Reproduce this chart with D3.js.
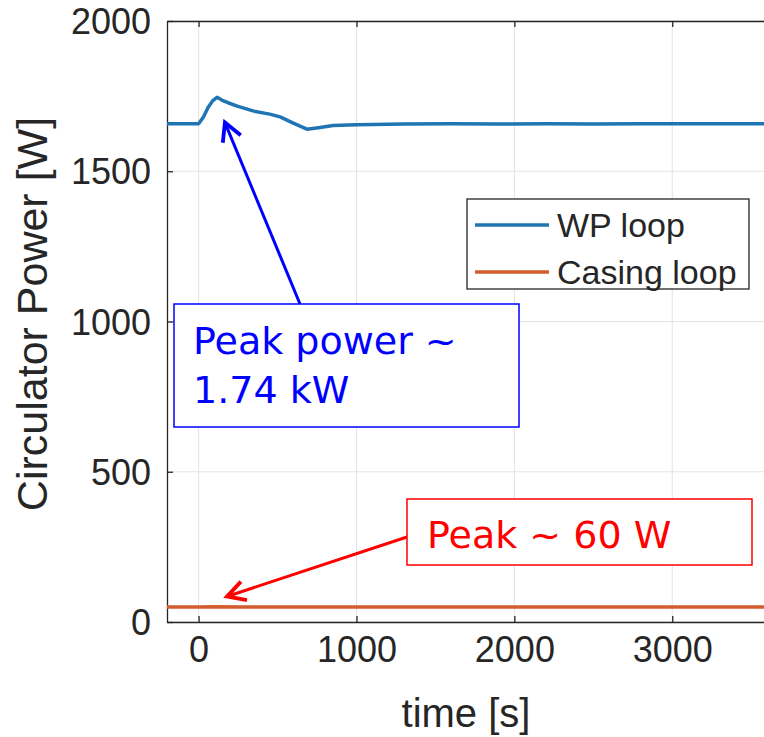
<!DOCTYPE html>
<html>
<head>
<meta charset="utf-8">
<script src="https://cdn.jsdelivr.net/npm/d3@7"></script>
<style>
  body { margin: 0; background: #fff; }
  text { font-family: "Liberation Sans", Arial, sans-serif; fill: #262626; }
  .note { font-family: "DejaVu Sans", sans-serif; }
</style>
</head>
<body>
<script>
// data
const wpTime  = [-200, -100, 0, 30, 60, 90, 117, 150, 186, 250, 350, 450, 516, 600, 686, 760, 851, 1000, 1300, 1600, 1900, 2200, 2500, 2800, 3100, 3400, 3600];
const wpPower = [1658, 1658, 1658, 1680, 1712, 1735, 1746, 1736, 1728, 1716, 1700, 1690, 1681, 1660, 1640, 1645, 1652, 1655, 1657, 1658, 1657, 1658, 1657, 1658, 1658, 1658, 1658];
const casingTime  = [-200, 0, 100, 300, 1000, 2000, 3000, 3600];
const casingPower = [50, 50, 51, 50, 50, 50, 50, 50];
const xTicks = [0, 1000, 2000, 3000];
const yTicks = [0, 500, 1000, 1500, 2000];
const seriesNames = ["WP loop", "Casing loop"];
const seriesColors = ["#1f74b4", "#d35c2e"];

const width = 764, height = 737;
const margin = { left: 167, top: 21, bottom: 115 };

const svg = d3.select("body").append("svg")
  .attr("width", width)
  .attr("height", height);

let xScale = d3.scaleLinear([-200, 3600], [margin.left, 767]);
let yScale = d3.scaleLinear([0, 2000], [height - margin.bottom, margin.top]);

svg.append("clipPath").attr("id", "chart-area")
  .append("rect")
  .attr("x", margin.left).attr("y", margin.top)
  .attr("width", 767 - margin.left).attr("height", yScale(0) - margin.top);

// grid
svg.append("g").selectAll("line").data(xTicks).join("line")
  .attr("x1", d => xScale(d)).attr("x2", d => xScale(d))
  .attr("y1", yScale(0)).attr("y2", yScale(2000))
  .attr("stroke", "#e3e3e3").attr("stroke-width", 1);
svg.append("g").selectAll("line").data(yTicks).join("line")
  .attr("x1", xScale(-200)).attr("x2", xScale(3600))
  .attr("y1", d => yScale(d)).attr("y2", d => yScale(d))
  .attr("stroke", "#e3e3e3").attr("stroke-width", 1);

// axes (MATLAB style, ticks inward)
const xAxis = svg.append("g")
  .attr("transform", `translate(0,${yScale(0)})`)
  .call(d3.axisBottom(xScale).tickValues(xTicks).tickFormat(d3.format("d"))
    .tickSizeInner(-6).tickSizeOuter(0).tickPadding(14));
const yAxis = svg.append("g")
  .attr("transform", `translate(${margin.left},0)`)
  .call(d3.axisLeft(yScale).tickValues(yTicks).tickFormat(d3.format("d"))
    .tickSizeInner(-6).tickSizeOuter(0).tickPadding(16));
const xTop = svg.append("g")
  .attr("transform", `translate(0,${yScale(2000)})`)
  .call(d3.axisTop(xScale).tickValues(xTicks).tickSizeInner(-6).tickSizeOuter(0).tickFormat(""));

[xAxis, yAxis, xTop].forEach(a => {
  a.select(".domain").attr("stroke", "#262626").attr("stroke-width", 1.3);
  a.selectAll(".tick line").attr("stroke", "#262626").attr("stroke-width", 1.3);
  a.selectAll(".tick text").style("font-size", "36px").attr("fill", "#262626")
    .style("font-family", "'Liberation Sans', Arial, sans-serif");
});
yAxis.selectAll(".tick text").attr("dy", "0.35em");

// axis labels
svg.append("text")
  .attr("text-anchor", "middle")
  .attr("x", 466).attr("y", 727)
  .style("font-size", "40px")
  .text("time [s]");

svg.append("text")
  .attr("text-anchor", "middle")
  .attr("transform", "translate(47,314) rotate(-90)")
  .style("font-size", "43px")
  .text("Circulator Power [W]");

// lines
let line = d3.line()
  .x(d => xScale(d[0]))
  .y(d => yScale(d[1]));

const series = [
  d3.zip(wpTime, wpPower),
  d3.zip(casingTime, casingPower)
];
series.forEach((data, i) => {
  svg.append("path")
    .datum(data)
    .attr("clip-path", "url(#chart-area)")
    .attr("fill", "none")
    .attr("stroke", seriesColors[i])
    .attr("stroke-width", 3.5)
    .attr("stroke-linejoin", "round")
    .attr("d", line);
});

// legend
const legend = svg.append("g").attr("transform", "translate(467,199)");
legend.append("rect")
  .attr("width", 282).attr("height", 90)
  .attr("fill", "#fff").attr("stroke", "#262626").attr("stroke-width", 1.3);
seriesNames.forEach((name, i) => {
  const ly = 26 + i * 47;
  legend.append("line")
    .attr("x1", 8).attr("x2", 82).attr("y1", ly).attr("y2", ly)
    .attr("stroke", seriesColors[i]).attr("stroke-width", 3.5);
  legend.append("text")
    .attr("x", 90).attr("y", ly).attr("dy", "0.35em")
    .style("font-size", "34px")
    .text(name);
});

// annotations
const defs = svg.append("defs");
[["blue", "#0000ff"], ["red", "#ff0000"]].forEach(([id, c]) => {
  defs.append("marker")
    .attr("id", "head-" + id)
    .attr("viewBox", "0 0 10 10")
    .attr("refX", 8.5).attr("refY", 5)
    .attr("markerWidth", 8.5).attr("markerHeight", 8.5)
    .attr("markerUnits", "strokeWidth")
    .attr("orient", "auto")
    .append("path")
    .attr("d", "M1.5,1.2 L8.5,5 L1.5,8.8")
    .attr("fill", "none")
    .attr("stroke", c)
    .attr("stroke-width", 1.5)
    .attr("stroke-linejoin", "miter");
});

// blue: peak of WP loop
svg.append("line")
  .attr("x1", 300).attr("y1", 304)
  .attr("x2", xScale(167)).attr("y2", yScale(1662))
  .attr("stroke", "#0000ff").attr("stroke-width", 3)
  .attr("marker-end", "url(#head-blue)");
svg.append("rect")
  .attr("x", 174).attr("y", 304).attr("width", 345).attr("height", 123)
  .attr("fill", "#fff").attr("stroke", "#0000ff").attr("stroke-width", 1.5);
svg.append("text").attr("class", "note")
  .attr("x", 193).attr("y", 354)
  .style("font-size", "38px").style("fill", "#0000ff")
  .text("Peak power ~");
svg.append("text").attr("class", "note")
  .attr("x", 193).attr("y", 403)
  .style("font-size", "38px").style("fill", "#0000ff")
  .text("1.74 kW");

// red: casing loop
svg.append("line")
  .attr("x1", 407).attr("y1", 537)
  .attr("x2", xScale(180)).attr("y2", yScale(85))
  .attr("stroke", "#ff0000").attr("stroke-width", 3)
  .attr("marker-end", "url(#head-red)");
svg.append("rect")
  .attr("x", 407).attr("y", 499).attr("width", 345).attr("height", 66)
  .attr("fill", "#fff").attr("stroke", "#ff0000").attr("stroke-width", 1.5);
svg.append("text").attr("class", "note")
  .attr("x", 427).attr("y", 548)
  .style("font-size", "38px").style("fill", "#ff0000")
  .text("Peak ~ 60 W");
</script>
</body>
</html>
